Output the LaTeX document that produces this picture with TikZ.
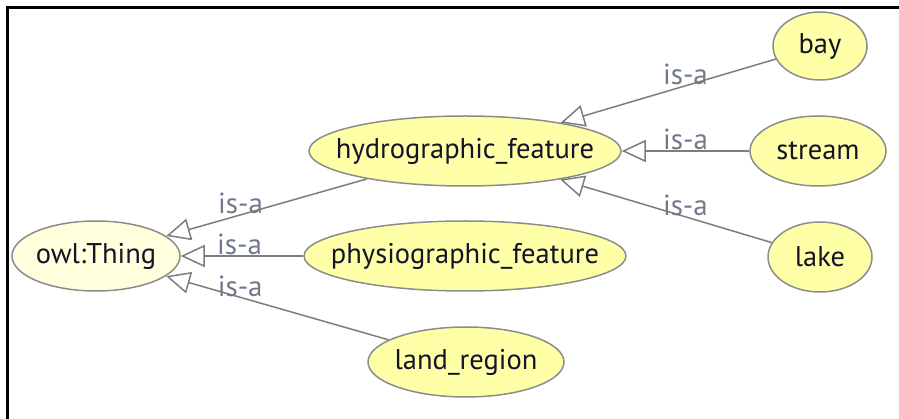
\documentclass[tikz,border=0pt]{standalone}
\usepackage{fontspec}
\setmainfont{PT Sans}
\usepackage{tikz}
\usetikzlibrary{shapes.geometric,arrows.meta}
\definecolor{clsfill}{RGB}{255,255,168}
\definecolor{topfill}{RGB}{255,255,222}
\definecolor{clsline}{RGB}{140,140,140}
\definecolor{isaline}{RGB}{125,125,125}
\definecolor{isatext}{RGB}{112,122,140}
\definecolor{clstext}{RGB}{20,20,40}

\begin{document}
\begin{tikzpicture}[x=1pt,y=-1pt,
		cls/.style={ellipse, draw=clsline, line width=1.5pt, fill=clsfill, inner xsep=-100pt, inner ysep=0pt, minimum height=70pt, text=clstext, font=\fontsize{28.5}{30}\selectfont},
		isa/.style={draw=isaline, line width=1.5pt, -{Triangle[open,length=24pt,width=22pt]}},
		lbl/.style={anchor=south, inner sep=0pt, text=isatext, font=\fontsize{29}{30}\selectfont}]
		\useasboundingbox (0,0) rectangle (899,419);
		\draw[line width=3pt] (7.5,419) -- (7.5,8) -- (899,8);
		\node[cls, fill=topfill, minimum width=168pt] (owl) at (96,256) {owl:Thing};
		\node[cls, minimum width=312pt] (hydro) at (465,151) {hydrographic\_feature};
		\node[cls, minimum width=322pt] (physio) at (465,256) {physiographic\_feature};
		\node[cls, minimum width=196pt] (land) at (466,362) {land\_region};
		\node[cls, minimum width=94pt, minimum height=68pt] (bay) at (820,46) {bay};
		\node[cls, minimum width=136pt] (stream) at (818,151) {stream};
		\node[cls, minimum width=104pt] (lake) at (820,257) {lake};
		\draw[isa] (hydro) -- (owl) node[pos=0.63, lbl]{is-a};
		\draw[isa] (physio) -- (owl) node[pos=0.52, lbl]{is-a};
		\draw[isa] (land) -- (owl) node[pos=0.667, lbl]{is-a};
		\draw[isa] (bay) -- (hydro) node[pos=0.42, lbl]{is-a};
		\draw[isa] (stream) -- (hydro) node[pos=0.5, lbl]{is-a};
		\draw[isa] (lake) -- (hydro) node[pos=0.408, lbl]{is-a};
	\end{tikzpicture}
\end{document}
